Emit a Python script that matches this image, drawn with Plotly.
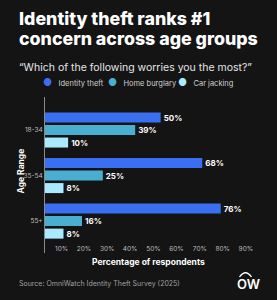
import plotly.graph_objects as go

age_groups = ["18-34", "35-54", "55+"]
identity_theft = [50, 68, 76]
home_burglary = [39, 25, 16]
car_jacking = [10, 8, 8]
series_names = ["Identity theft", "Home burglary", "Car jacking"]
colors = ["#3b6ff2", "#4aaed0", "#a9eaff"]
tick_vals = [10, 20, 30, 40, 50, 60, 70, 80, 90]
tick_text = [f"{v}%" for v in tick_vals]

W, H = 277, 300
L, R, T, B = 45, 10, 97, 47
PW, PH = W - L - R, H - T - B
BG = "#141414"
FONT = "Inter"

def px_x(px):
    return (px - L) / PW

def px_y(py):
    return (H - B - py) / PH

fig = go.Figure()
for name, vals, col in zip(series_names, [identity_theft, home_burglary, car_jacking], colors):
    fig.add_trace(go.Bar(
        y=age_groups, x=vals, orientation="h", name=name,
        marker=dict(color=col, line=dict(width=0)),
        text=[f"{v}%" for v in vals], textposition="outside",
        textfont=dict(family=FONT, size=8, color="#ffffff", weight=700),
        cliponaxis=False, showlegend=False,
    ))

ann = []
ann.append(dict(text="Identity theft ranks #1", x=17, y=31.5, xanchor="left", yanchor="bottom",
                font=dict(family=FONT, size=17.8, color="#ffffff", weight=800)))
ann.append(dict(text="concern across age groups", x=17, y=51.5, xanchor="left", yanchor="bottom",
                font=dict(family=FONT, size=17.8, color="#ffffff", weight=800)))
ann.append(dict(text="\u201cWhich of the following worries you the most?\u201d", x=17, y=67,
                xanchor="left", yanchor="middle",
                font=dict(family=FONT, size=10.5, color="#e6e6e6")))
leg_x = [41, 106, 176]
for name, col, lx in zip(series_names, colors, leg_x):
    ann.append(dict(text=f"<span style='color:{col};font-size:10px'>\u25cf</span>&nbsp;&nbsp; {name}",
                    x=lx, y=82, xanchor="left", yanchor="middle",
                    font=dict(family=FONT, size=7.5, color="#d0d0d0")))
ann.append(dict(text="Age Range", x=20.5, y=171, xanchor="center", yanchor="middle", textangle=-90,
                font=dict(family=FONT, size=8.5, color="#ffffff", weight=700)))
ann.append(dict(text="Percentage of respondents", x=148, y=262, xanchor="center", yanchor="middle",
                font=dict(family=FONT, size=8.5, color="#ffffff", weight=700)))
ann.append(dict(text="Source: OmniWatch Identity Theft Survey (2025)", x=17, y=283,
                xanchor="left", yanchor="middle",
                font=dict(family=FONT, size=7, color="#a0a0a0")))
ann.append(dict(text="OW", x=248, y=284, xanchor="center", yanchor="middle",
                font=dict(family=FONT, size=13, color="#ffffff", weight=600)))

annotations = []
for a in ann:
    a = dict(a)
    a["x"] = px_x(a["x"])
    a["y"] = px_y(a["y"])
    a.update(xref="paper", yref="paper", showarrow=False)
    annotations.append(a)

shapes = [dict(type="path", xref="paper", yref="paper",
               path=f"M {px_x(239.5)},{px_y(277)} Q {px_x(245.5)},{px_y(268.5)} {px_x(251.5)},{px_y(277)}",
               line=dict(color="#ffffff", width=1.3))]

fig.update_layout(
    width=W, height=H, margin=dict(l=L, r=R, t=T, b=B),
    paper_bgcolor=BG, plot_bgcolor=BG,
    barmode="group", bargap=0.176, bargroupgap=0.2,
    annotations=annotations, shapes=shapes,
    xaxis=dict(range=[0, 96], tickvals=tick_vals, ticktext=tick_text, showgrid=False,
               zeroline=False, showline=False, ticks="", ticklabelposition="inside left",
               ticklabelstandoff=-5,
               tickfont=dict(family=FONT, size=6.5, color="#bdbdbd")),
    yaxis=dict(type="category", range=[2.70, -0.725], showgrid=False, zeroline=False,
               showline=True, linecolor="#8a8a8a", linewidth=1, ticks="",
               tickfont=dict(family=FONT, size=6.5, color="#bdbdbd")),
)

fig.write_html("out.html")
